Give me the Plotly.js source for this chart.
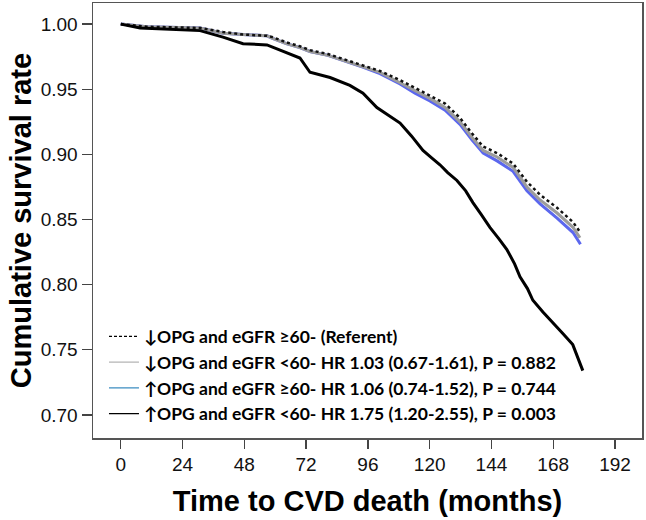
<!DOCTYPE html>
<html>
<head>
<meta charset="utf-8">
<script src="https://cdn.plot.ly/plotly-3.0.1.min.js"></script>
<style>
  body { margin: 0; background: #fff; }
  #plotArea { width: 646px; height: 520px; }
</style>
</head>
<body>
<div id="plotArea"></div>
<script>
// low OPG, eGFR >= 60 (referent)
var refMonths = [0, 10, 30.8, 39.7, 47.5, 56.8, 59, 64.3, 69.6, 73.5, 80.5, 86.6, 94, 100.7, 108.5, 114.3, 120.1, 126, 131.8, 136.5, 140.8, 146.2, 152.4, 157.8, 162.9, 169.5, 175.7, 178.2];
var refSurv = [1.000, 0.998, 0.997, 0.994, 0.992, 0.991, 0.990, 0.986, 0.983, 0.980, 0.977, 0.973, 0.968, 0.964, 0.957, 0.951, 0.945, 0.939, 0.928, 0.916, 0.906, 0.901, 0.893, 0.879, 0.869, 0.859, 0.848, 0.841];

// low OPG, eGFR < 60
var lowLowMonths = [0, 10, 30.8, 39.7, 47.5, 56.8, 59, 64.3, 69.6, 73.5, 80.5, 86.6, 94, 100.7, 108.5, 114.3, 120.1, 126, 131.8, 136.5, 140.8, 146.2, 152.4, 157.8, 162.9, 169.5, 175.7, 178.4];
var lowLowSurv = [1.000, 0.998, 0.997, 0.993, 0.992, 0.991, 0.989, 0.985, 0.982, 0.979, 0.976, 0.972, 0.967, 0.963, 0.955, 0.949, 0.943, 0.936, 0.925, 0.913, 0.903, 0.898, 0.890, 0.875, 0.865, 0.855, 0.844, 0.836];

// high OPG, eGFR >= 60
var highHighMonths = [0, 10, 30.8, 39.7, 47.5, 56.8, 59, 64.3, 69.6, 73.5, 80.5, 86.6, 94, 100.7, 108.5, 114.3, 120.1, 126, 131.8, 136.5, 140.8, 146.2, 152.4, 157.8, 162.9, 169.5, 175.7, 178.6];
var highHighSurv = [1.000, 0.998, 0.997, 0.993, 0.992, 0.991, 0.989, 0.985, 0.982, 0.979, 0.976, 0.972, 0.967, 0.962, 0.954, 0.947, 0.941, 0.934, 0.923, 0.911, 0.901, 0.895, 0.887, 0.872, 0.862, 0.851, 0.840, 0.831];

// high OPG, eGFR < 60
var highLowMonths = [0, 7.5, 30.8, 39.7, 47.5, 56.8, 61.9, 69.6, 73.5, 81.3, 89.0, 94.1, 99.5, 104, 108.5, 113, 117.4, 121, 124, 127, 130.6, 134, 136.8, 140, 143.4, 147, 150, 153, 155.1, 158, 160.1, 164, 167.9, 172, 175.6, 177.6, 179.5];
var highLowSurv = [1.000, 0.997, 0.995, 0.990, 0.985, 0.984, 0.980, 0.974, 0.963, 0.959, 0.953, 0.947, 0.936, 0.930, 0.924, 0.914, 0.903, 0.897, 0.892, 0.886, 0.880, 0.872, 0.863, 0.854, 0.844, 0.835, 0.827, 0.816, 0.806, 0.797, 0.788, 0.779, 0.771, 0.762, 0.754, 0.744, 0.734];

var legendNames = [
  "↓OPG and eGFR ≥60- (Referent)",
  "↓OPG and eGFR <60- HR 1.03 (0.67-1.61), P = 0.882",
  "↑OPG and eGFR ≥60- HR 1.06 (0.74-1.52), P = 0.744",
  "↑OPG and eGFR <60- HR 1.75 (1.20-2.55), P = 0.003"
];

var curves = [
  { x: highHighMonths, y: highHighSurv, type: "scatter", mode: "lines", line: { color: "#5b67ee", width: 3 }, showlegend: false },
  { x: lowLowMonths, y: lowLowSurv, type: "scatter", mode: "lines", line: { color: "#9c9c9c", width: 3 }, showlegend: false },
  { x: refMonths, y: refSurv, type: "scatter", mode: "lines", line: { color: "#111", width: 2.5, dash: "dot" }, showlegend: false },
  { x: highLowMonths, y: highLowSurv, type: "scatter", mode: "lines", line: { color: "#000", width: 3 }, showlegend: false }
];

// legend samples, drawn thin like the original key
var keyStyles = [
  { color: "#000", width: 1.3, dash: "3px,2px" },
  { color: "#b4b4b4", width: 1.3 },
  { color: "#3b8cc0", width: 1.3 },
  { color: "#000", width: 1.3 }
];
var keys = legendNames.map(function (name, i) {
  return { x: [null], y: [null], type: "scatter", mode: "lines", name: name, line: keyStyles[i] };
});

var layout = {
  width: 646,
  height: 520,
  margin: { l: 93, r: 4, t: 3, b: 82 },
  paper_bgcolor: "#fff",
  plot_bgcolor: "#fff",
  showlegend: true,
  legend: {
    x: 0.02, y: 0.015, xanchor: "left", yanchor: "bottom",
    bgcolor: "rgba(0,0,0,0)",
    font: { family: "Lato, 'Open Sans', sans-serif", size: 17.5, color: "#000", weight: "bold" },
    itemwidth: 30,
    tracegroupgap: 0
  },
  xaxis: {
    range: [-10.8, 202.5],
    tickvals: [0, 24, 48, 72, 96, 120, 144, 168, 192],
    ticks: "outside", ticklen: 9, tickwidth: 1.3, tickcolor: "#444",
    showline: true, linecolor: "#555", linewidth: 1.5, mirror: true,
    showgrid: false, zeroline: false,
    tickfont: { family: "Liberation Sans, Arial, sans-serif", size: 19, color: "#111" },
    title: { text: "<b>Time to CVD death (months)</b>", font: { family: "Liberation Sans, Arial, sans-serif", size: 29, color: "#000" }, standoff: 16 }
  },
  yaxis: {
    range: [0.6823, 1.0162],
    tickvals: [0.70, 0.75, 0.80, 0.85, 0.90, 0.95, 1.00],
    tickformat: ".2f",
    ticks: "outside", ticklen: 10, tickwidth: 1.3, tickcolor: "#444",
    showline: true, linecolor: "#555", linewidth: 1.5, mirror: true,
    showgrid: false, zeroline: false,
    tickfont: { family: "Liberation Sans, Arial, sans-serif", size: 19, color: "#111" },
    title: { text: "<b>Cumulative survival rate</b>", font: { family: "Liberation Sans, Arial, sans-serif", size: 29, color: "#000" }, standoff: 0 }
  }
};

Plotly.newPlot("plotArea", curves.concat(keys), layout, { displayModeBar: false, staticPlot: true });
</script>
</body>
</html>
